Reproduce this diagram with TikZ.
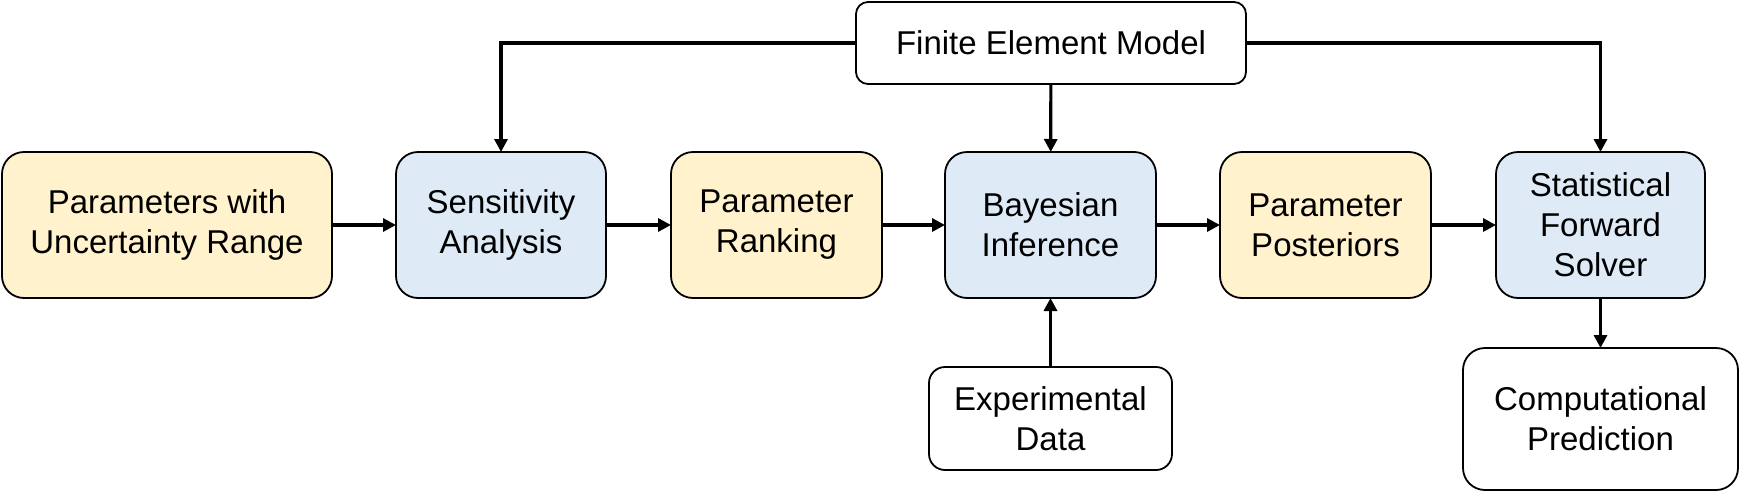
\documentclass[tikz,border=0pt]{standalone}
\usepackage{fontspec}
\setmainfont{Liberation Sans}
\usetikzlibrary{arrows.meta}
\definecolor{ylw}{HTML}{FFF2CC}
\definecolor{blu}{HTML}{DEEBF7}
\begin{document}
\begin{tikzpicture}[x=0.5pt,y=-0.5pt,
  box/.style={draw=black,line width=0.9pt,rounded corners=11pt,align=center,
    font=\fontsize{16.5pt}{20pt}\selectfont,inner sep=0pt,outer sep=0pt},
  ybox/.style={box,fill=ylw,minimum height=73pt},
  bbox/.style={box,fill=blu,minimum height=73pt},
  wbox/.style={box,fill=white},
  arr/.style={line width=1.6pt,-{Triangle[length=6.5pt,width=6.5pt]}}]
\useasboundingbox (0,0) rectangle (1741,493);
\node[ybox,minimum width=165pt] (params) at (167,225) {Parameters with\\Uncertainty Range};
\node[bbox,minimum width=105pt] (sens) at (501,225) {Sensitivity\\Analysis};
\node[ybox,minimum width=105.5pt] (rank) at (776.5,225) {Parameter\\Ranking};
\node[bbox,minimum width=105.5pt] (bayes) at (1050.5,225) {Bayesian\\Inference};
\node[ybox,minimum width=105.5pt] (post) at (1325.5,225) {Parameter\\Posteriors};
\node[bbox,minimum width=104.5pt] (stat) at (1600.5,225) {Statistical\\Forward\\Solver};
\node[wbox,minimum width=195pt,minimum height=41pt,rounded corners=6pt] (fem) at (1051,43) {Finite Element Model};
\node[wbox,minimum width=121.5pt,minimum height=51.5pt,rounded corners=8pt] (exp) at (1050.5,418.5) {Experimental\\Data};
\node[wbox,minimum width=137.5pt,minimum height=71pt,rounded corners=11pt] (comp) at (1600.5,419) {Computational\\Prediction};
\draw[arr] (params) -- (sens);
\draw[arr] (sens) -- (rank);
\draw[arr] (rank) -- (bayes);
\draw[arr] (bayes) -- (post);
\draw[arr] (post) -- (stat);
\draw[arr] (fem.west) -| (sens.north);
\draw[arr] (fem.east) -| (stat.north);
\draw[arr] (fem) -- (bayes);
\draw[arr] (exp) -- (bayes);
\draw[arr] (stat) -- (comp);
\end{tikzpicture}
\end{document}
